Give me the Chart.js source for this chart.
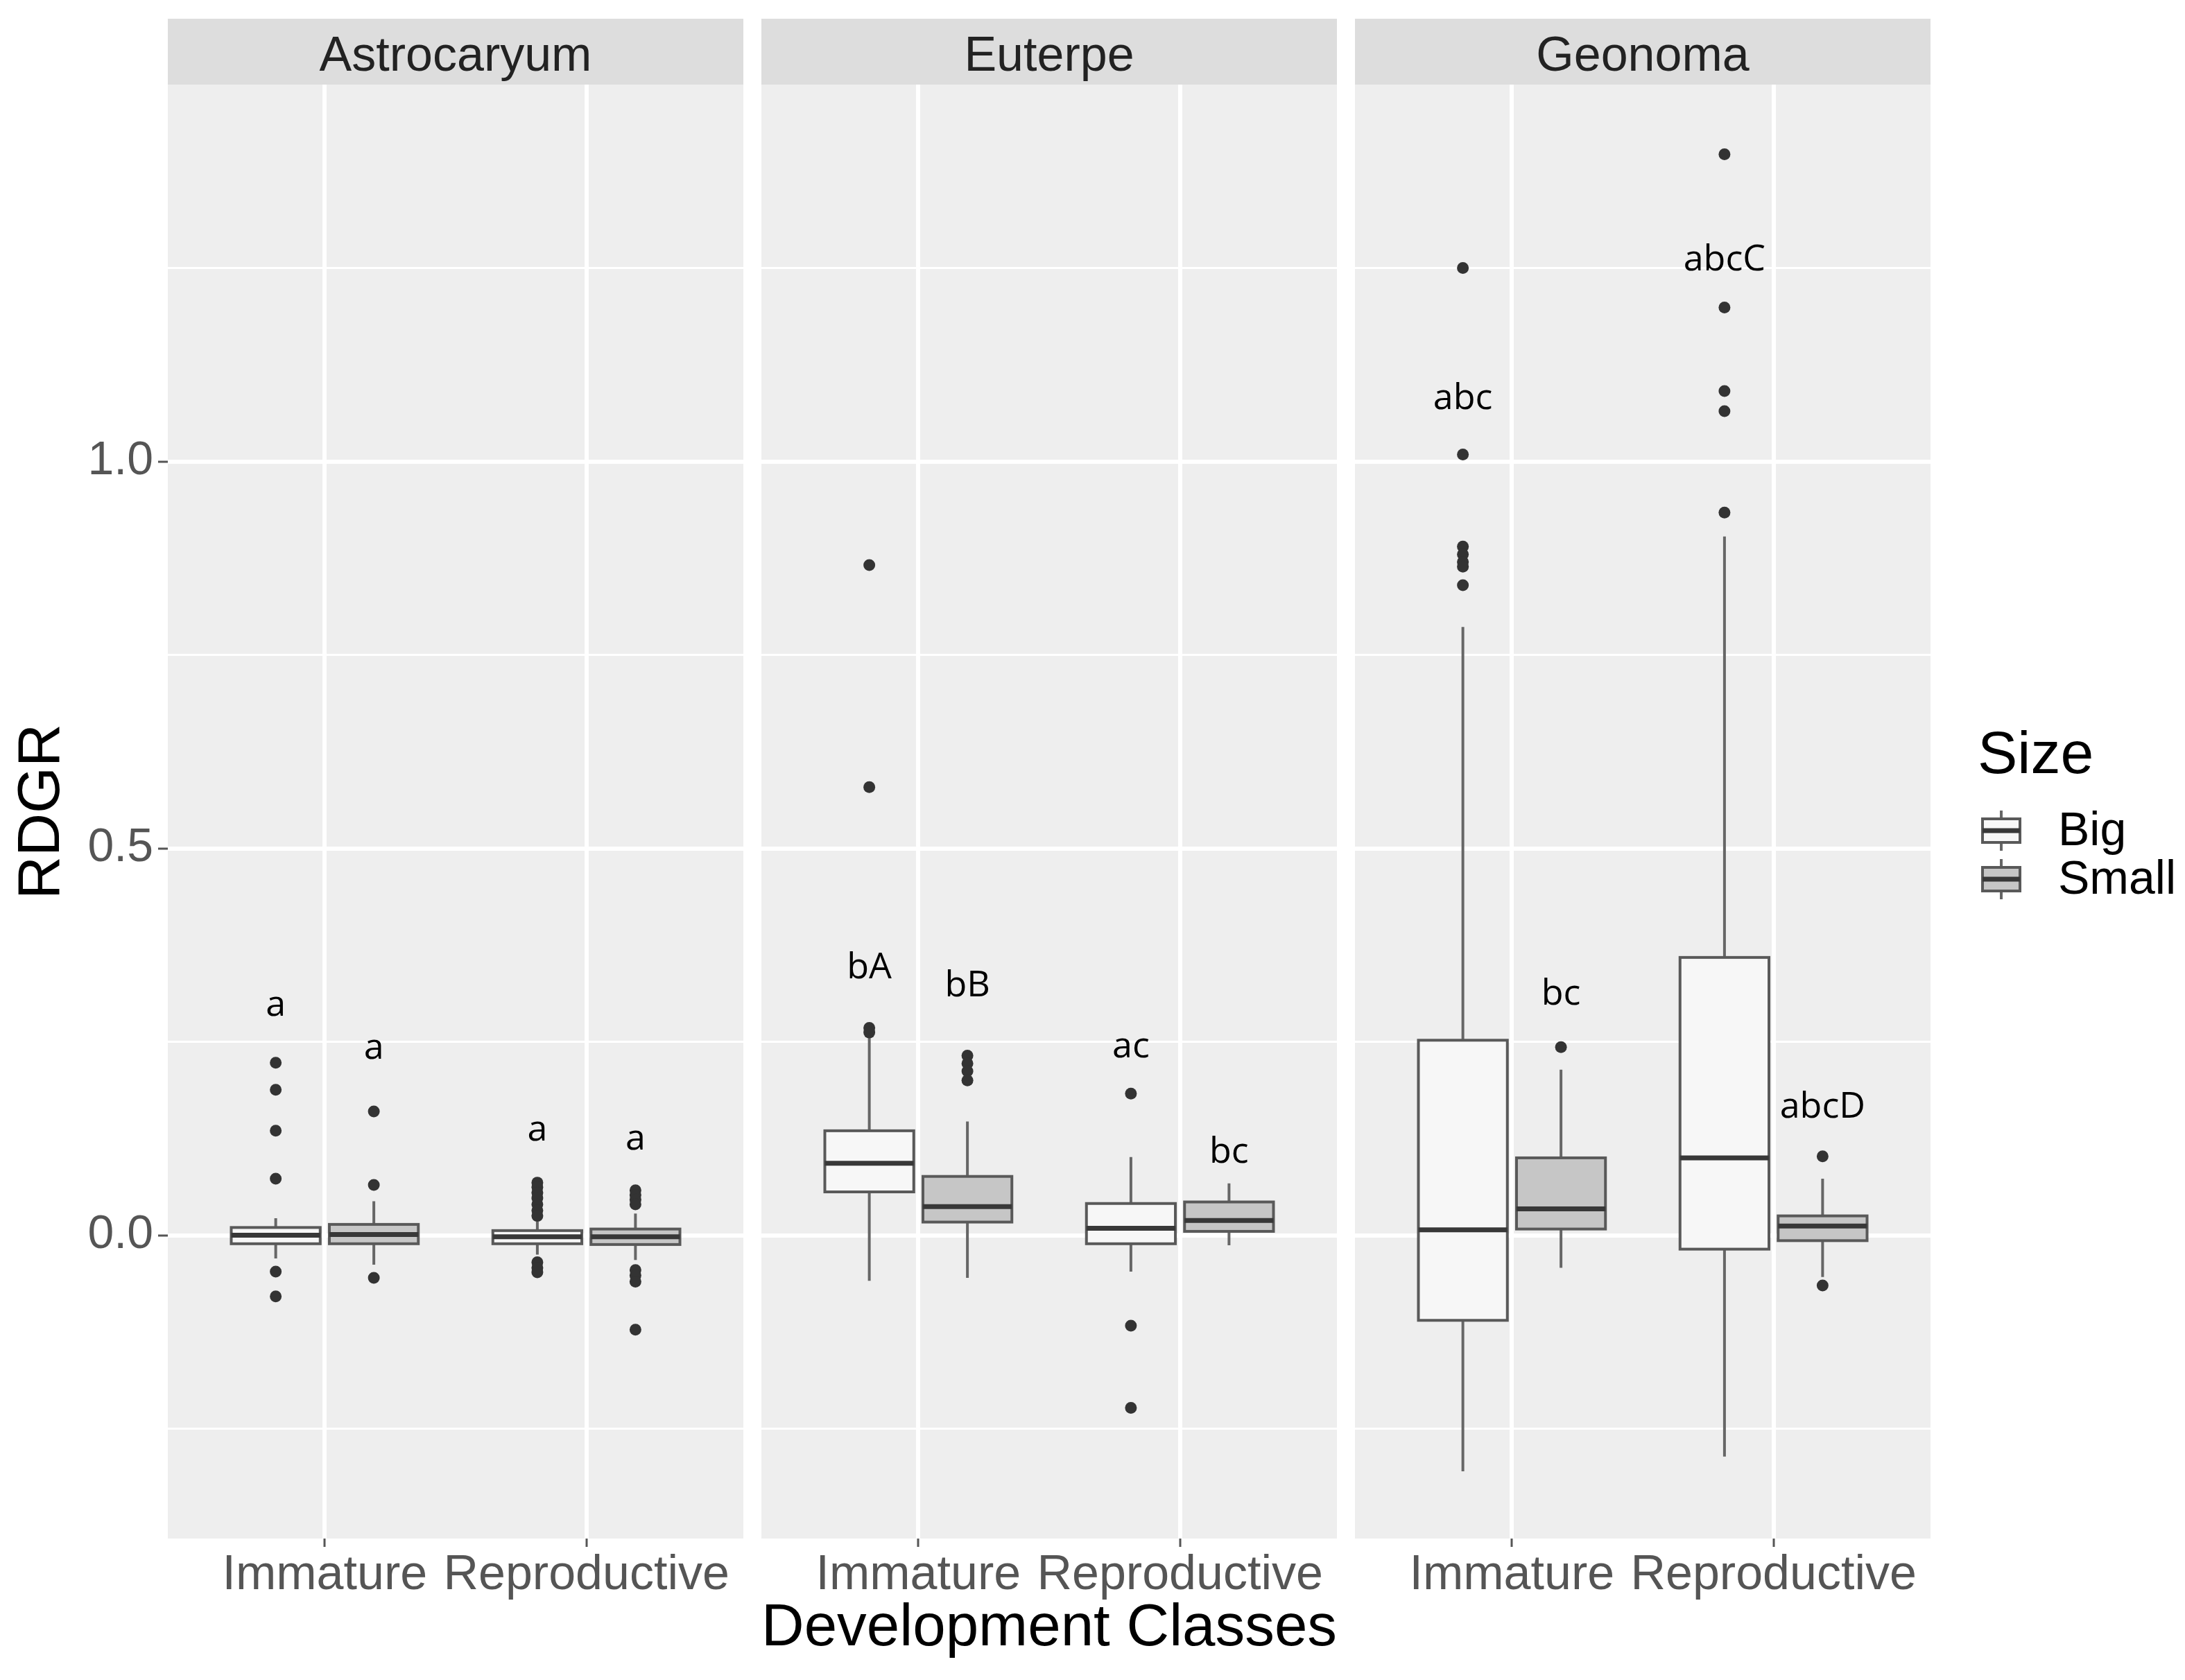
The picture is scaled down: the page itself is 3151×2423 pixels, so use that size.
<!DOCTYPE html>
<html>
<head>
<meta charset="utf-8">
<script src="https://cdn.jsdelivr.net/npm/chart.js@4.4.1/dist/chart.umd.min.js"></script>
<style>
  html, body { margin: 0; padding: 0; background: #fff; }
  body { width: 3151px; height: 2423px; position: relative; overflow: hidden; }
  canvas { position: absolute; top: 0; }
</style>
</head>
<body>
<canvas id="c1" width="1072" height="2423" style="left:0px"></canvas>
<canvas id="c2" width="830" height="2423" style="left:1098px"></canvas>
<canvas id="c3" width="1197" height="2423" style="left:1954px"></canvas>
<script>
var species = ['Astrocaryum', 'Euterpe', 'Geonoma'];
var classes = ['Immature', 'Reproductive'];
var sizes = ['Big', 'Small'];

// box order everywhere: Immature-Big, Immature-Small, Reproductive-Big, Reproductive-Small
// stats rows: [lower whisker, q1, median, q3, upper whisker]
var astroStats = [
  [-0.030, -0.011, 0.000, 0.010, 0.022],
  [-0.038, -0.011, 0.001, 0.014, 0.044],
  [-0.025, -0.011, -0.002, 0.006, 0.018],
  [-0.032, -0.012, -0.002, 0.008, 0.028]
];
var euterpeStats = [
  [-0.059, 0.056, 0.093, 0.135, 0.255],
  [-0.055, 0.017, 0.037, 0.076, 0.147],
  [-0.047, -0.011, 0.009, 0.041, 0.101],
  [-0.013, 0.005, 0.019, 0.043, 0.067]
];
var geonomaStats = [
  [-0.305, -0.110, 0.007, 0.252, 0.786],
  [-0.042, 0.008, 0.034, 0.100, 0.214],
  [-0.286, -0.018, 0.100, 0.359, 0.903],
  [-0.054, -0.007, 0.012, 0.025, 0.073]
];

var astroOutliers = [
  [0.223, 0.188, 0.135, 0.073, -0.047, -0.079],
  [0.160, 0.065, -0.055],
  [0.068, 0.062, 0.055, 0.048, 0.040, 0.032, 0.025, -0.035, -0.042, -0.048],
  [0.058, 0.052, 0.046, 0.040, -0.045, -0.052, -0.060, -0.122]
];
var euterpeOutliers = [
  [0.866, 0.579, 0.268, 0.262],
  [0.232, 0.222, 0.212, 0.200],
  [0.183, -0.117, -0.223],
  []
];
var geonomaOutliers = [
  [1.250, 1.009, 0.890, 0.880, 0.870, 0.864, 0.840],
  [0.243],
  [1.397, 1.199, 1.091, 1.065, 0.934],
  [0.102, -0.065]
];

var astroLetters = ['a', 'a', 'a', 'a'];
var euterpeLetters = ['bA', 'bB', 'ac', 'bc'];
var geonomaLetters = ['abc', 'bc', 'abcC', 'abcD'];
var astroLetterY = [0.297, 0.241, 0.136, 0.124];
var euterpeLetterY = [0.345, 0.322, 0.243, 0.107];
var geonomaLetterY = [1.081, 0.311, 1.260, 0.165];

var yTicks = [-0.25, 0, 0.25, 0.5, 0.75, 1.0, 1.25];
var yMajor = [0, 0.5, 1.0];
var yMajorLabels = ['0.0', '0.5', '1.0'];
var yMin = -0.392, yMax = 1.487;

Chart.defaults.font.family = '"Liberation Sans", Arial, sans-serif';

var dodge = [-0.1875, 0.1875];
var boxW = 0.34;
var fills = ['#f7f7f7', '#c6c6c6'];

function xOf(k) { return Math.floor(k / 2) + 1 + dodge[k % 2]; }

function drawBox(ctx, cx, half, pLow, pQ1, pMed, pQ3, pHigh, fill) {
  ctx.strokeStyle = '#666';
  ctx.lineWidth = 4;
  ctx.beginPath();
  ctx.moveTo(cx, pHigh); ctx.lineTo(cx, pQ3);
  ctx.moveTo(cx, pQ1); ctx.lineTo(cx, pLow);
  ctx.stroke();
  ctx.fillStyle = fill;
  ctx.fillRect(cx - half, pQ3, half * 2, pQ1 - pQ3);
  ctx.strokeStyle = '#595959';
  ctx.lineWidth = 4;
  ctx.strokeRect(cx - half, pQ3, half * 2, pQ1 - pQ3);
  ctx.strokeStyle = '#383838';
  ctx.lineWidth = 7;
  ctx.beginPath();
  ctx.moveTo(cx - half, pMed); ctx.lineTo(cx + half, pMed);
  ctx.stroke();
}

var boxPlugin = {
  id: 'boxes',
  beforeDraw: function (chart, args, opts) {
    var ctx = chart.ctx, a = chart.chartArea;
    ctx.save();
    ctx.fillStyle = '#eeeeee';
    ctx.fillRect(a.left, a.top, a.right - a.left, a.bottom - a.top);
    ctx.fillStyle = '#dddddd';
    ctx.fillRect(a.left, 27, a.right - a.left, a.top - 27);
    ctx.fillStyle = '#222';
    ctx.font = '70px "Liberation Sans", Arial, sans-serif';
    ctx.textAlign = 'center';
    ctx.textBaseline = 'middle';
    ctx.fillText(opts.title, (a.left + a.right) / 2, 83);
    ctx.restore();
  },
  beforeDatasetsDraw: function (chart, args, opts) {
    var ctx = chart.ctx, x = chart.scales.x, y = chart.scales.y;
    ctx.save();
    opts.stats.forEach(function (s, k) {
      var cx = x.getPixelForValue(xOf(k));
      var half = (x.getPixelForValue(xOf(k) + boxW / 2) - cx);
      drawBox(ctx, cx, half, y.getPixelForValue(s[0]), y.getPixelForValue(s[1]),
        y.getPixelForValue(s[2]), y.getPixelForValue(s[3]), y.getPixelForValue(s[4]), fills[k % 2]);
    });
    ctx.restore();
  },
  afterDatasetsDraw: function (chart, args, opts) {
    var ctx = chart.ctx, x = chart.scales.x, y = chart.scales.y;
    ctx.save();
    ctx.fillStyle = '#000';
    ctx.font = '52px "Open Sans", sans-serif';
    ctx.textAlign = 'center';
    ctx.textBaseline = 'middle';
    opts.letters.forEach(function (t, k) {
      ctx.fillText(t, x.getPixelForValue(xOf(k)), y.getPixelForValue(opts.letterY[k]));
    });
    ctx.restore();
  }
};

// legend drawn to the right of the last panel
var sizeLegend = {
  id: 'sizeLegend',
  afterDraw: function (chart, args, opts) {
    if (!opts.show) return;
    var ctx = chart.ctx;
    var left = chart.chartArea.right;
    ctx.save();
    ctx.fillStyle = '#000';
    ctx.font = '86px "Liberation Sans", Arial, sans-serif';
    ctx.textAlign = 'left';
    ctx.textBaseline = 'alphabetic';
    ctx.fillText('Size', left + 68, 1115);
    var keyY = [1198, 1268];
    sizes.forEach(function (sz, i) {
      var cy = keyY[i], cx = left + 102;
      drawBox(ctx, cx, 27, cy + 29, cy + 17, cy, cy - 17, cy - 29, fills[i]);
      ctx.fillStyle = '#000';
      ctx.font = '68px "Liberation Sans", Arial, sans-serif';
      ctx.textBaseline = 'middle';
      ctx.fillText(sz, left + 184, cy + 2);
    });
    ctx.restore();
  }
};

function outlierSets(outliers) {
  return sizes.map(function (sz, s) {
    var pts = [];
    classes.forEach(function (c, ci) {
      outliers[ci * 2 + s].forEach(function (v) { pts.push({ x: ci + 1 + dodge[s], y: v }); });
    });
    return { label: sz, data: pts, pointRadius: 8.5, pointHoverRadius: 8.5,
      backgroundColor: '#333', borderWidth: 0 };
  });
}

function makePanel(id, idx, stats, outliers, letters, letterY) {
  var first = idx === 0, middle = idx === 1, last = idx === 2;
  return new Chart(document.getElementById(id), {
    type: 'scatter',
    data: { datasets: outlierSets(outliers) },
    plugins: [boxPlugin, sizeLegend],
    options: {
      responsive: false,
      animation: false,
      devicePixelRatio: 1,
      events: [],
      layout: { autoPadding: false, padding: { top: 122, left: 0, bottom: 0, right: last ? 367 : 0 } },
      plugins: {
        legend: { display: false },
        tooltip: { enabled: false },
        boxes: { title: species[idx], stats: stats, letters: letters, letterY: letterY },
        sizeLegend: { show: last }
      },
      scales: {
        x: {
          type: 'linear', min: 0.4, max: 2.6,
          afterBuildTicks: function (s) { s.ticks = classes.map(function (c, i) { return { value: i + 1 }; }); },
          afterFit: function (s) { s.height = 204; },
          ticks: {
            autoSkip: false, maxRotation: 0, minRotation: 0, padding: 0,
            color: '#555', font: { size: 70 },
            callback: function (v, i) { return classes[i]; }
          },
          grid: { color: '#fff', lineWidth: 6, tickLength: 12, tickColor: '#555', tickWidth: 3 },
          border: { display: false },
          title: {
            display: middle, text: 'Development Classes', color: '#000',
            font: { size: 86 }, padding: { top: 0, bottom: 22 }
          }
        },
        y: {
          min: yMin, max: yMax,
          afterBuildTicks: function (s) { s.ticks = yTicks.map(function (v) { return { value: v }; }); },
          afterFit: function (s) { s.width = first ? 242 : 0; },
          ticks: {
            display: first, autoSkip: false, padding: 7, color: '#555', font: { size: 68 },
            callback: function (v) {
              var j = yMajor.indexOf(v);
              return j >= 0 ? yMajorLabels[j] : '';
            }
          },
          grid: {
            color: '#fff',
            drawTicks: first,
            tickLength: 14,
            tickWidth: 3,
            lineWidth: function (c) { return yMajor.indexOf(c.tick.value) >= 0 ? 6 : 3; },
            tickColor: function (c) { return yMajor.indexOf(c.tick.value) >= 0 ? '#555' : 'rgba(0,0,0,0)'; }
          },
          border: { display: false },
          title: {
            display: first, text: 'RDGR', color: '#000',
            font: { size: 86 }, padding: { top: 10, bottom: 0 }
          }
        }
      }
    }
  });
}

makePanel('c1', 0, astroStats, astroOutliers, astroLetters, astroLetterY);
makePanel('c2', 1, euterpeStats, euterpeOutliers, euterpeLetters, euterpeLetterY);
makePanel('c3', 2, geonomaStats, geonomaOutliers, geonomaLetters, geonomaLetterY);
</script>
</body>
</html>
